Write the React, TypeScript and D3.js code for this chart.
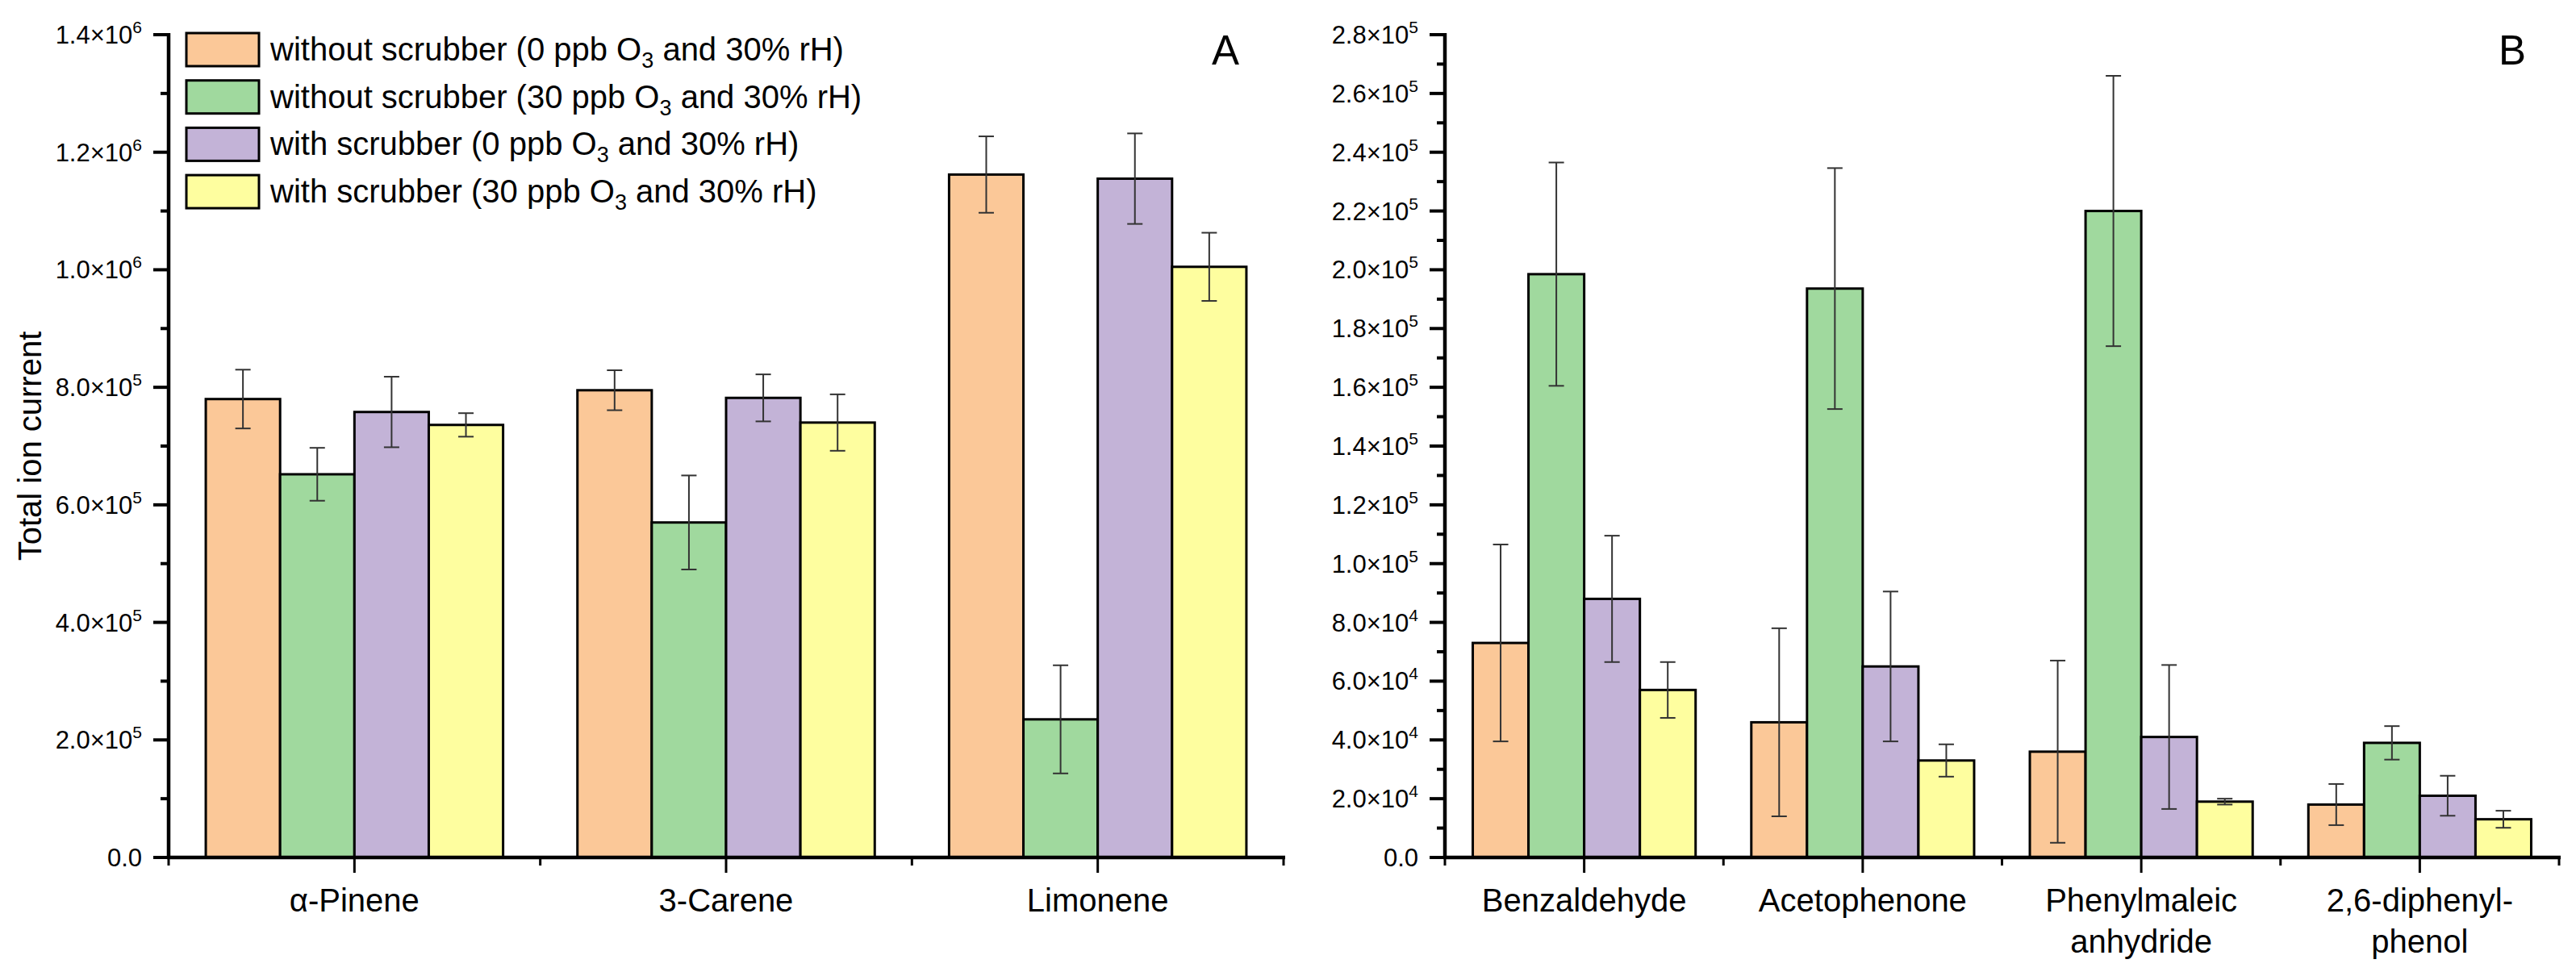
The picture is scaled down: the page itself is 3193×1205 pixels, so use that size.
import React, { useEffect, useRef } from 'react';
import * as d3 from 'd3';

const W = 3193;
const H = 1205;
const FONT = '"Liberation Sans", Arial, sans-serif';

// series (legend order)
const seriesLabels = [
  'without scrubber (0 ppb O3 and 30% rH)',
  'without scrubber (30 ppb O3 and 30% rH)',
  'with scrubber (0 ppb O3 and 30% rH)',
  'with scrubber (30 ppb O3 and 30% rH)',
];
const seriesColors = ['#fbc898', '#a0d99e', '#c3b3d7', '#fefe9f'];

// panel A: terpenes
const terpenes = ['α-Pinene', '3-Carene', 'Limonene'];
const terpeneMeans = [
  [7.8e5, 6.52e5, 7.58e5, 7.36e5],
  [7.95e5, 5.7e5, 7.82e5, 7.4e5],
  [1.162e6, 2.35e5, 1.155e6, 1.005e6],
];
const terpeneErrors = [
  [0.5e5, 0.45e5, 0.6e5, 0.2e5],
  [0.34e5, 0.8e5, 0.4e5, 0.48e5],
  [0.065e6, 0.92e5, 0.077e6, 0.058e6],
];
const terpeneTicks = [0, 2e5, 4e5, 6e5, 8e5, 1e6, 1.2e6, 1.4e6];

// panel B: oxidation products
const products = ['Benzaldehyde', 'Acetophenone', 'Phenylmaleic\nanhydride', '2,6-diphenyl-\nphenol'];
const productMeans = [
  [7.3e4, 1.985e5, 8.8e4, 5.7e4],
  [4.6e4, 1.936e5, 6.5e4, 3.3e4],
  [3.6e4, 2.2e5, 4.1e4, 1.9e4],
  [1.8e4, 3.9e4, 2.1e4, 1.3e4],
];
const productErrors = [
  [3.35e4, 3.8e4, 2.15e4, 0.95e4],
  [3.2e4, 4.1e4, 2.55e4, 0.55e4],
  [3.1e4, 4.6e4, 2.45e4, 0.1e4],
  [0.7e4, 0.57e4, 0.68e4, 0.29e4],
];
const productTicks = d3.range(0, 2.81e5, 2e4);

const yTop = 43;
const yBase = 1063;

function tickLabel(sel: any, v: number) {
  if (v === 0) {
    sel.text('0.0');
    return;
  }
  const e = Math.floor(Math.log10(v) + 1e-9);
  const m = v / Math.pow(10, e);
  sel.append('tspan').text(m.toFixed(1) + '×10');
  sel.append('tspan').attr('dy', -13).attr('font-size', 21).text(String(e));
}

function drawPanel(svg: any, opts: any) {
  const { x0, x1, max, ticks, cats, means, errs, letter, letterX } = opts;
  const g = svg.append('g');

  const y = d3.scaleLinear().domain([0, max]).range([yBase, yTop]);
  const x = d3.scaleBand().domain(cats).range([x0, x1]).paddingInner(0).paddingOuter(0);
  const bw = x.bandwidth();
  const xs = d3.scaleBand().domain(d3.range(4).map(String)).range([bw * 0.1, bw * 0.9]);

  // bars
  cats.forEach((c: string, ci: number) => {
    const grp = g.append('g').attr('transform', 'translate(' + x(c) + ',0)');
    grp.selectAll('rect')
      .data(means[ci])
      .enter().append('rect')
      .attr('x', (d: number, i: number) => xs(String(i)))
      .attr('y', (d: number) => y(d))
      .attr('width', xs.bandwidth())
      .attr('height', (d: number) => yBase - y(d))
      .attr('fill', (d: number, i: number) => seriesColors[i])
      .attr('stroke', '#000')
      .attr('stroke-width', 3);

    // error bars
    means[ci].forEach((m: number, i: number) => {
      const cx = (xs(String(i)) as number) + xs.bandwidth() / 2;
      const e = errs[ci][i];
      const eb = grp.append('g').attr('stroke', '#333').attr('stroke-width', 2);
      eb.append('line').attr('x1', cx).attr('x2', cx).attr('y1', y(m + e)).attr('y2', y(m - e));
      eb.append('line').attr('x1', cx - 9.5).attr('x2', cx + 9.5).attr('y1', y(m + e)).attr('y2', y(m + e));
      eb.append('line').attr('x1', cx - 9.5).attr('x2', cx + 9.5).attr('y1', y(m - e)).attr('y2', y(m - e));
    });
  });

  // y axis
  const step = ticks[1] - ticks[0];
  const minor = d3.range(step / 2, max, step);
  g.selectAll('.ymin').data(minor).enter().append('line')
    .attr('x1', x0 - 10).attr('x2', x0).attr('y1', (d: number) => y(d)).attr('y2', (d: number) => y(d))
    .attr('stroke', '#000').attr('stroke-width', 4);
  g.selectAll('.ymaj').data(ticks).enter().append('line')
    .attr('x1', x0 - 19).attr('x2', x0).attr('y1', (d: number) => y(d)).attr('y2', (d: number) => y(d))
    .attr('stroke', '#000').attr('stroke-width', 4);
  g.selectAll('.ylab').data(ticks).enter().append('text')
    .attr('x', x0 - 33).attr('y', (d: number) => y(d) + 11)
    .attr('text-anchor', 'end')
    .attr('font-family', FONT).attr('font-size', 31)
    .each(function (this: any, d: number) { tickLabel(d3.select(this), d); });
  g.append('line').attr('x1', x0).attr('x2', x0).attr('y1', yTop - 2).attr('y2', yBase + 2)
    .attr('stroke', '#000').attr('stroke-width', 4.5);

  // x axis
  const bounds = d3.range(cats.length + 1).map((i) => x0 + i * bw);
  g.selectAll('.xmin').data(bounds).enter().append('line')
    .attr('x1', (d: number) => d).attr('x2', (d: number) => d).attr('y1', yBase).attr('y2', yBase + 10)
    .attr('stroke', '#000').attr('stroke-width', 3);
  g.selectAll('.xmaj').data(cats).enter().append('line')
    .attr('x1', (d: string) => (x(d) as number) + bw / 2).attr('x2', (d: string) => (x(d) as number) + bw / 2)
    .attr('y1', yBase).attr('y2', yBase + 19)
    .attr('stroke', '#000').attr('stroke-width', 3);
  g.append('line').attr('x1', x0 - 2).attr('x2', x1 + 2).attr('y1', yBase).attr('y2', yBase)
    .attr('stroke', '#000').attr('stroke-width', 4.5);

  const lab = g.selectAll('.xlab').data(cats).enter().append('text')
    .attr('x', (d: string) => (x(d) as number) + bw / 2)
    .attr('y', 1130)
    .attr('text-anchor', 'middle')
    .attr('font-family', FONT).attr('font-size', 40);
  lab.each(function (this: any, d: string) {
    const t = d3.select(this);
    const cx = (x(d) as number) + bw / 2;
    d.split('\n').forEach((ln, i) => {
      t.append('tspan').attr('x', cx).attr('dy', i === 0 ? 0 : 51).text(ln);
    });
  });

  svg.append('text').attr('x', letterX).attr('y', 80)
    .attr('font-family', FONT).attr('font-size', 51).text(letter);
}

export default function App() {
  const ref = useRef<SVGSVGElement>(null);

  useEffect(() => {
    const svg = d3.select(ref.current);
    svg.selectAll('*').remove();

    drawPanel(svg, {
      x0: 209, x1: 1591, max: 1.4e6, ticks: terpeneTicks,
      cats: terpenes, means: terpeneMeans, errs: terpeneErrors,
      letter: 'A', letterX: 1502,
    });
    drawPanel(svg, {
      x0: 1791, x1: 3172, max: 2.8e5, ticks: productTicks,
      cats: products, means: productMeans, errs: productErrors,
      letter: 'B', letterX: 3097,
    });

    // y axis title
    svg.append('text')
      .attr('transform', 'translate(51,553) rotate(-90)')
      .attr('text-anchor', 'middle')
      .attr('font-family', FONT).attr('font-size', 40)
      .text('Total ion current');

    // legend
    const leg = svg.append('g');
    seriesLabels.forEach((s, i) => {
      const top = 41 + i * 58.7;
      leg.append('rect')
        .attr('x', 231).attr('y', top).attr('width', 90).attr('height', 41)
        .attr('fill', seriesColors[i]).attr('stroke', '#000').attr('stroke-width', 3);
      const t = leg.append('text').attr('x', 335).attr('y', top + 34)
        .attr('font-family', FONT).attr('font-size', 40);
      const parts = s.split('O3');
      t.append('tspan').text(parts[0] + 'O');
      t.append('tspan').attr('dy', 9).attr('font-size', 27).text('3');
      t.append('tspan').attr('dy', -9).text(parts[1]);
    });
  }, []);

  return (
    <svg
      ref={ref}
      width={W}
      height={H}
      style={{ position: 'absolute', left: 0, top: 0, background: '#fff' }}
    ></svg>
  );
}
